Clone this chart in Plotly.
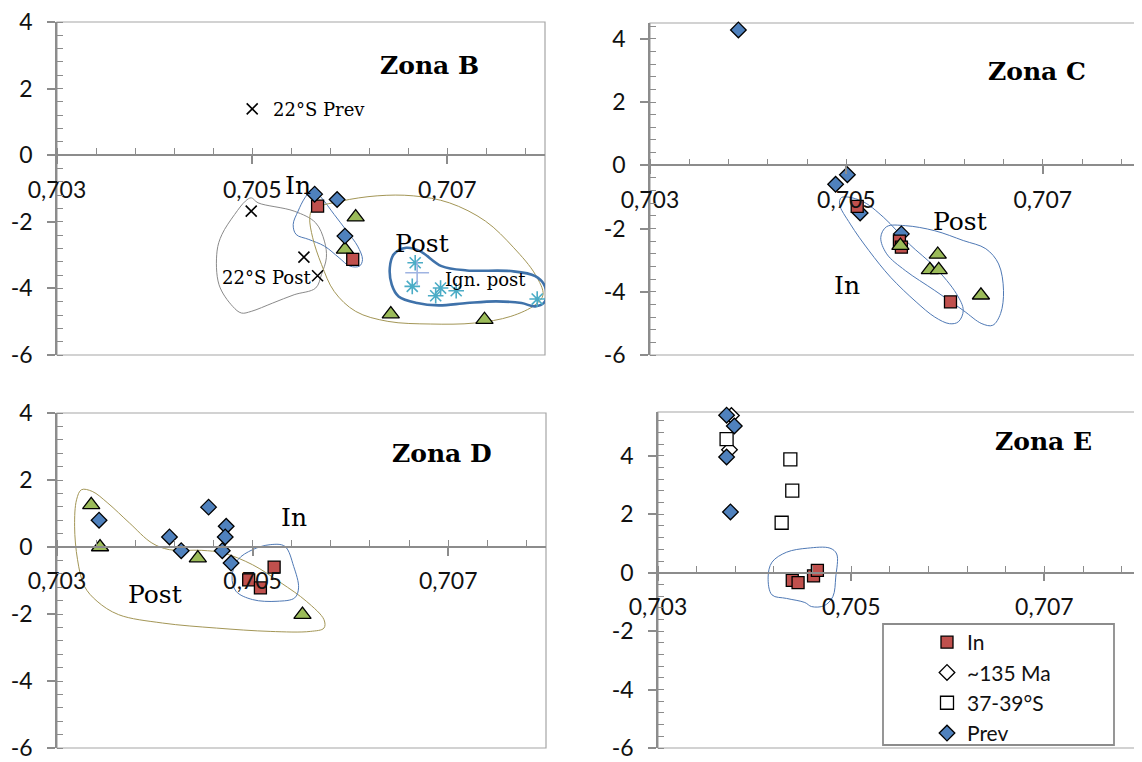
import plotly.graph_objects as go

W, H = 1142, 762
OFF = 8  # page margin of the html body
FW, FH = W - OFF, H - OFF

# ---- Zona B ----
b_in_x = [0.70567, 0.70603]
b_in_y = [-1.53, -3.13]
b_prev_x = [0.70564, 0.70587, 0.70595]
b_prev_y = [-1.17, -1.33, -2.43]
b_post_x = [0.70606, 0.70595, 0.70642, 0.70738]
b_post_y = [-1.86, -2.83, -4.77, -4.94]
b_ign_x = [0.70667, 0.70664, 0.70688, 0.70693, 0.70709, 0.70792]
b_ign_y = [-3.23, -3.94, -4.22, -3.99, -4.07, -4.32]
b_ign_mean_x = [0.70669]
b_ign_mean_y = [-3.53]
b_22s_prev_x = [0.70500]
b_22s_prev_y = [1.39]
b_22s_post_x = [0.70499, 0.70553, 0.70567]
b_22s_post_y = [-1.68, -3.06, -3.62]

# ---- Zona C ----
c_prev_x = [0.70390, 0.70489, 0.70501, 0.70514, 0.70556]
c_prev_y = [4.28, -0.60, -0.30, -1.51, -2.17]
c_in_x = [0.70511, 0.70554, 0.70556, 0.70606]
c_in_y = [-1.30, -2.40, -2.59, -4.32]
c_post_x = [0.70555, 0.70593, 0.70585, 0.70594, 0.70637]
c_post_y = [-2.54, -2.82, -3.31, -3.31, -4.11]

# ---- Zona D ----
d_post_x = [0.70335, 0.70344, 0.70444, 0.70551]
d_post_y = [1.26, 0.0, -0.33, -2.02]
d_prev_x = [0.70343, 0.70415, 0.70427, 0.70455, 0.70473, 0.70472, 0.70469, 0.70478]
d_prev_y = [0.80, 0.30, -0.11, 1.19, 0.62, 0.30, -0.11, -0.48]
d_in_x = [0.70496, 0.70508, 0.70522]
d_in_y = [-0.98, -1.22, -0.60]

# ---- Zona E ----
e_in_x = [0.70439, 0.70445, 0.70461, 0.70465]
e_in_y = [-0.26, -0.34, -0.11, 0.08]
e_135_x = [0.70376, 0.70374]
e_135_y = [5.38, 4.21]
e_3739_x = [0.70371, 0.70437, 0.70439, 0.70428]
e_3739_y = [4.57, 3.88, 2.81, 1.71]
e_prev_x = [0.70371, 0.70379, 0.70371, 0.70375]
e_prev_y = [5.39, 5.02, 3.96, 2.08]

# hand drawn outlines (data units)
b_outline_22s = [(0.70499, -1.28), (0.70506, -1.43), (0.70543, -1.68), (0.70565, -2.03), (0.70574, -2.58),
                 (0.70576, -3.08), (0.70571, -3.58), (0.70565, -3.99), (0.70543, -4.19), (0.70521, -4.44),
                 (0.70499, -4.69), (0.70489, -4.74), (0.70480, -4.54), (0.70466, -3.89), (0.70464, -2.88),
                 (0.70469, -2.38), (0.70482, -1.78), (0.70493, -1.38)]
b_outline_in = [(0.70562, -1.02), (0.70571, -1.28), (0.70584, -1.78), (0.70597, -2.28), (0.70608, -2.73),
                (0.70613, -3.13), (0.70610, -3.33), (0.70600, -3.33), (0.70589, -3.08), (0.70574, -2.73),
                (0.70558, -2.53), (0.70545, -2.38), (0.70542, -2.08), (0.70547, -1.68), (0.70554, -1.28)]
b_outline_post = [(0.70562, -1.63), (0.70591, -1.38), (0.70628, -1.22), (0.70665, -1.22), (0.70702, -1.43),
                  (0.70739, -1.98), (0.70768, -2.78), (0.70790, -3.58), (0.70798, -4.19), (0.70790, -4.49),
                  (0.70765, -4.84), (0.70728, -5.04), (0.70683, -5.07), (0.70639, -4.99), (0.70606, -4.69),
                  (0.70584, -4.09), (0.70571, -3.28), (0.70562, -2.48), (0.70559, -1.88)]
b_outline_ign = [(0.70645, -2.98), (0.70658, -2.78), (0.70672, -2.88), (0.70694, -3.33), (0.70720, -3.46),
                 (0.70765, -3.48), (0.70790, -3.63), (0.70800, -3.94), (0.70800, -4.39), (0.70790, -4.54),
                 (0.70776, -4.44), (0.70750, -4.39), (0.70720, -4.44), (0.70691, -4.51), (0.70669, -4.44),
                 (0.70650, -4.24), (0.70643, -3.89), (0.70641, -3.38)]
c_outline_in = [(0.70495, -1.02), (0.70515, -1.12), (0.70538, -1.65), (0.70564, -2.49), (0.70590, -3.22),
                (0.70612, -4.06), (0.70619, -4.59), (0.70614, -4.95), (0.70605, -5.01), (0.70590, -4.80),
                (0.70571, -4.32), (0.70545, -3.54), (0.70523, -2.70), (0.70504, -1.86), (0.70493, -1.23)]
c_outline_post = [(0.70541, -1.94), (0.70560, -1.91), (0.70590, -2.07), (0.70619, -2.38), (0.70642, -2.64),
                  (0.70655, -3.12), (0.70660, -3.96), (0.70657, -4.69), (0.70649, -5.06), (0.70638, -5.01),
                  (0.70619, -4.59), (0.70590, -3.96), (0.70560, -3.33), (0.70541, -2.80), (0.70535, -2.28)]
d_outline_post = [(0.70325, 1.71), (0.70336, 1.66), (0.70352, 1.31), (0.70374, 0.72), (0.70397, 0.12),
                  (0.70415, -0.08), (0.70448, -0.10), (0.70470, -0.18), (0.70500, -0.53), (0.70529, -1.07),
                  (0.70555, -1.62), (0.70573, -2.17), (0.70573, -2.42), (0.70559, -2.52), (0.70518, -2.52),
                  (0.70463, -2.42), (0.70408, -2.27), (0.70363, -2.02), (0.70341, -1.62), (0.70328, -1.17),
                  (0.70321, -0.38), (0.70318, 0.62), (0.70320, 1.41)]
d_outline_in = [(0.70485, -0.38), (0.70500, -0.08), (0.70518, 0.07), (0.70533, 0.02), (0.70542, -0.58),
                (0.70547, -1.22), (0.70543, -1.52), (0.70525, -1.62), (0.70500, -1.57), (0.70483, -1.32),
                (0.70479, -0.88)]
e_outline_in = [(0.70418, 0.36), (0.70433, 0.70), (0.70455, 0.84), (0.70478, 0.84), (0.70485, 0.64),
                (0.70484, -0.15), (0.70481, -0.82), (0.70472, -1.13), (0.70459, -1.16), (0.70452, -1.02),
                (0.70433, -0.88), (0.70418, -0.76), (0.70414, -0.15)]

x_range = [0.703, 0.708]
x_tick_vals = [0.703, 0.705, 0.707]
y_tick_vals = [-6, -4, -2, 0, 2, 4]
y_tick_text = ['-6', '-4', '-2', '0', '2', '4']

AX = '#8c8c8c'
BORDER = '#a6a6a6'
TICKFONT = dict(family='Lato', size=23, color='#111111')
SERIF = 'DejaVu Serif'

# panel boxes in page pixels: left, right, top, bottom, y range
panels = [
    dict(key='', box=(57, 545, 22, 355), yr=[-6, 4]),
    dict(key='2', box=(650, 1141, 23, 355), yr=[-6, 4.5]),
    dict(key='3', box=(57, 546, 413, 748), yr=[-6, 4]),
    dict(key='4', box=(658, 1141, 412, 748), yr=[-6, 5.5]),
]


def fx(px):
    return (px - OFF) / FW


def fy(py):
    return 1 - (py - OFF) / FH


edge = dict(color='black', width=1.3)
IN = dict(symbol='square', size=12, color='#c0504d', line=edge)
PREV = dict(symbol='diamond', size=12, color='#4f81bd', line=edge)
POST = dict(symbol='triangle-up', size=15, color='#9bbb59', line=edge)
OPEN_D = dict(symbol='diamond', size=12, color='white', line=edge)
OPEN_S = dict(symbol='square', size=13, color='white', line=edge)
XMARK = dict(symbol='x-thin', size=11, color='black', line=dict(color='black', width=1.6))
AST = dict(symbol='asterisk', size=13, color='#4bacc6', line=dict(color='#4bacc6', width=1.6))
PLUS = dict(symbol='cross-thin', size=17, color='#9fb4e2', line=dict(color='#9fb4e2', width=1.6))

fig = go.Figure()


def pts(key, x, y, marker, name=None, legend=False):
    fig.add_trace(go.Scatter(x=x, y=y, mode='markers', marker=marker, name=name,
                             showlegend=legend, xaxis='x' + key, yaxis='y' + key,
                             cliponaxis=False))


def outline(key, path, color, width=1):
    xs = [p[0] for p in path] + [path[0][0]]
    ys = [p[1] for p in path] + [path[0][1]]
    fig.add_trace(go.Scatter(x=xs, y=ys, mode='lines', showlegend=False, hoverinfo='skip',
                             line=dict(color=color, width=width, shape='spline', smoothing=1.0),
                             xaxis='x' + key, yaxis='y' + key, cliponaxis=False))


OLIVE = '#a39656'
THINBLUE = '#4f79b5'

# Zona B
outline('', b_outline_22s, '#8a8a8a')
outline('', b_outline_in, THINBLUE)
outline('', b_outline_post, OLIVE)
outline('', b_outline_ign, '#3f72aa', 2.6)
pts('', b_22s_prev_x, b_22s_prev_y, XMARK)
pts('', b_22s_post_x, b_22s_post_y, XMARK)
pts('', b_ign_x, b_ign_y, AST)
pts('', b_ign_mean_x, b_ign_mean_y, PLUS)
pts('', b_post_x, b_post_y, POST)
pts('', b_in_x, b_in_y, IN)
pts('', b_prev_x, b_prev_y, PREV)

# Zona C
outline('2', c_outline_in, THINBLUE)
outline('2', c_outline_post, THINBLUE)
pts('2', c_prev_x, c_prev_y, PREV)
pts('2', c_in_x, c_in_y, IN)
pts('2', c_post_x, c_post_y, POST)

# Zona D
outline('3', d_outline_post, OLIVE)
outline('3', d_outline_in, THINBLUE)
pts('3', d_post_x, d_post_y, POST)
pts('3', d_prev_x, d_prev_y, PREV)
pts('3', d_in_x, d_in_y, IN)

# Zona E
outline('4', e_outline_in, THINBLUE)
pts('4', e_in_x, e_in_y, IN, 'In', True)
pts('4', e_135_x, e_135_y, OPEN_D, '~135 Ma', True)
pts('4', e_3739_x, e_3739_y, OPEN_S, '37-39°S', True)
pts('4', e_prev_x, e_prev_y, PREV, 'Prev', True)

layout = dict(width=FW, height=FH, margin=dict(l=0, r=0, t=0, b=0, autoexpand=False),
              paper_bgcolor='white', plot_bgcolor='white', separators=',.',
              showlegend=True)
shapes = []
for p in panels:
    k = p['key']
    left, right, top, bottom = p['box']
    xd = [fx(left), min(fx(right), 1)]
    yd = [max(fy(bottom), 0), fy(top)]
    y0, y1 = p['yr']
    zero_pos = yd[0] + (0 - y0) / (y1 - y0) * (yd[1] - yd[0])
    layout['xaxis' + k] = dict(
        domain=xd, range=x_range, anchor='free', position=zero_pos, automargin=False,
        tickmode='array', tickvals=x_tick_vals, tickformat='.3f',
        showline=True, linecolor=AX, linewidth=1.5,
        ticks='outside', ticklen=8, tickwidth=1.5, tickcolor=AX,
        minor=dict(ticks='inside', ticklen=6, tickwidth=1.2, tickcolor=AX,
                   tick0=0.703, dtick=0.0004, showgrid=False),
        showgrid=False, zeroline=False, tickfont=TICKFONT, ticklabelstandoff=6,
        ticklabeloverflow='allow',
    )
    layout['yaxis' + k] = dict(
        domain=yd, range=p['yr'], anchor='x' + k, automargin=False,
        tickmode='array', tickvals=y_tick_vals, ticktext=y_tick_text,
        showline=True, linecolor=AX, linewidth=1.5,
        ticks='outside', ticklen=8, tickwidth=1.5, tickcolor=AX,
        minor=dict(ticks='inside', ticklen=6, tickwidth=1.2, tickcolor=AX,
                   tick0=-6, dtick=0.4, showgrid=False),
        showgrid=False, zeroline=False, tickfont=TICKFONT, ticklabelstandoff=10,
        ticklabeloverflow='allow',
    )
    shapes.append(dict(type='rect', xref='x%s domain' % k, yref='y%s domain' % k,
                       x0=0, x1=1, y0=0, y1=1, line=dict(color=BORDER, width=1.2),
                       layer='below'))

# legend box for Zona E
shapes.append(dict(type='rect', xref='paper', yref='paper',
                   x0=fx(883), x1=fx(1114), y0=fy(745), y1=fy(624),
                   line=dict(color='#8c8c8c', width=1.8), fillcolor='white', layer='above'))
layout['shapes'] = shapes
layout['legend'] = dict(x=fx(927), y=fy(622), xanchor='left', yanchor='top',
                        bgcolor='rgba(0,0,0,0)', borderwidth=0,
                        font=dict(family='Lato', size=21, color='#111111'),
                        tracegroupgap=0)


def label(key, x, y, text, size=25, bold=False, anchor='center'):
    return dict(xref='x' + key, yref='y' + key, x=x, y=y, text='<b>%s</b>' % text if bold else text,
                showarrow=False, xanchor=anchor,
                font=dict(family=SERIF, size=size, color='black'))


layout['annotations'] = [
    label('', 0.70682, 2.69, 'Zona B', 25, True),
    label('', 0.70519, 1.36, '22°S Prev', 18, anchor='left'),
    label('', 0.70547, -0.90, 'In', 25),
    label('', 0.70674, -2.66, 'Post', 25),
    label('', 0.70739, -3.73, 'Ign. post', 18),
    label('', 0.70515, -3.66, '22°S Post', 18),
    label('2', 0.70694, 2.97, 'Zona C', 25, True),
    label('2', 0.70616, -1.77, 'Post', 25),
    label('2', 0.70501, -3.80, 'In', 25),
    label('3', 0.70694, 2.79, 'Zona D', 25, True),
    label('3', 0.70542, 0.87, 'In', 25),
    label('3', 0.70400, -1.42, 'Post', 25),
    label('4', 0.70699, 4.49, 'Zona E', 25, True),
]

fig.update_layout(**layout)
fig.write_html('out.html')
